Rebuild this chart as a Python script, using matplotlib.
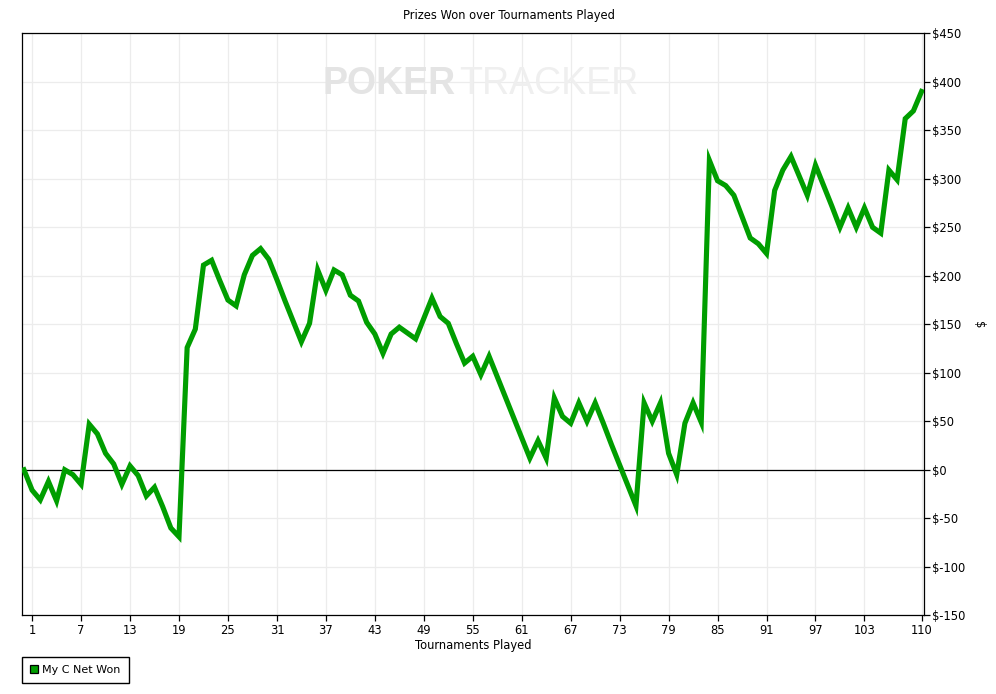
import matplotlib
matplotlib.use("Agg")
import matplotlib.pyplot as plt
from matplotlib.patches import Patch
from matplotlib.ticker import FuncFormatter

plt.rcParams['font.family'] = ['DejaVu Sans']

tournaments = list(range(0, 111))
net_won = [
    0, -21, -31, -12, -32, 0, -5, -15, 47, 37,
    17, 6, -15, 4, -6, -27, -18, -38, -60, -69,
    126, 145, 211, 216, 195, 175, 169, 201, 221, 228,
    217, 196, 174, 153, 132, 151, 206, 185, 206, 201,
    180, 174, 152, 140, 120, 140, 147, 141, 135, 156,
    177, 158, 151, 130, 110, 117, 98, 117, 96, 75,
    54, 33, 12, 30, 12, 74, 55, 48, 69, 50,
    69, 48, 26, 5, -16, -37, 69, 50, 69, 17,
    -5, 48, 69, 49, 319, 298, 293, 283, 261, 239,
    233, 223, 288, 309, 323, 303, 283, 314, 293, 272,
    250, 270, 250, 270, 250, 244, 309, 299, 362, 370,
    390,
]
x_ticks = [1, 7, 13, 19, 25, 31, 37, 43, 49, 55, 61, 67, 73, 79, 85, 91, 97, 103, 110]
y_ticks = list(range(-150, 451, 50))

title = "Prizes Won over Tournaments Played"
x_label = "Tournaments Played"
y_label = "$"
series_name = "My C Net Won"
line_color = "#009e00"

W, H = 996, 694
fig = plt.figure(figsize=(W / 100, H / 100), dpi=100)
left, right, top, bottom = 21.5, 924, 33.3, 615.3
ax = fig.add_axes([left / W, (H - bottom) / H, (right - left) / W, (bottom - top) / H])

ax.plot(tournaments, net_won, color=line_color, linewidth=3.7, solid_joinstyle='miter',
        zorder=3)
ax.axhline(0, color='black', linewidth=0.9, zorder=2)

ax.set_xlim(-0.3, 110.3)
ax.set_ylim(-150, 450)
ax.set_xticks(x_ticks)
ax.set_yticks(y_ticks)
ax.yaxis.tick_right()
ax.yaxis.set_label_position('right')
ax.yaxis.set_major_formatter(FuncFormatter(lambda v, p: f"${int(v)}"))
ax.tick_params(axis='both', direction='out', length=4, width=0.9, colors='black',
               labelsize=8.3, pad=2)
ax.grid(True, color='#ececec', linewidth=0.9)
ax.set_axisbelow(True)
for s in ax.spines.values():
    s.set_color('black')
    s.set_linewidth(0.9)

ax.set_xlabel(x_label, fontsize=8.3, labelpad=2)
ax.set_ylabel(y_label, fontsize=8.3, rotation=270, labelpad=14)
fig.text(509 / W, 1 - 16 / H, title, ha='center', va='center', fontsize=8.3)

# watermark
fig.text(456 / W, 1 - 84 / H, "POKER", fontsize=27, fontweight='bold', color='#e4e4e4',
         ha='right', va='center', zorder=0.5, family='Liberation Sans')
fig.text(459 / W, 1 - 84 / H, "TRACKER", fontsize=27, color='#efefef',
         ha='left', va='center', zorder=0.5, family='Liberation Sans')

handle = Patch(facecolor=line_color, edgecolor='black', linewidth=0.9)
fig.legend([handle], [series_name], loc='upper left',
           bbox_to_anchor=(21.5 / W, 1 - 656.7 / H), frameon=True, fancybox=False,
           edgecolor='black', framealpha=1, fontsize=8.0, handlelength=0.75,
           handleheight=0.75, handletextpad=0.35, borderpad=0.75, borderaxespad=0)

fig.savefig("out.png", dpi=100)
